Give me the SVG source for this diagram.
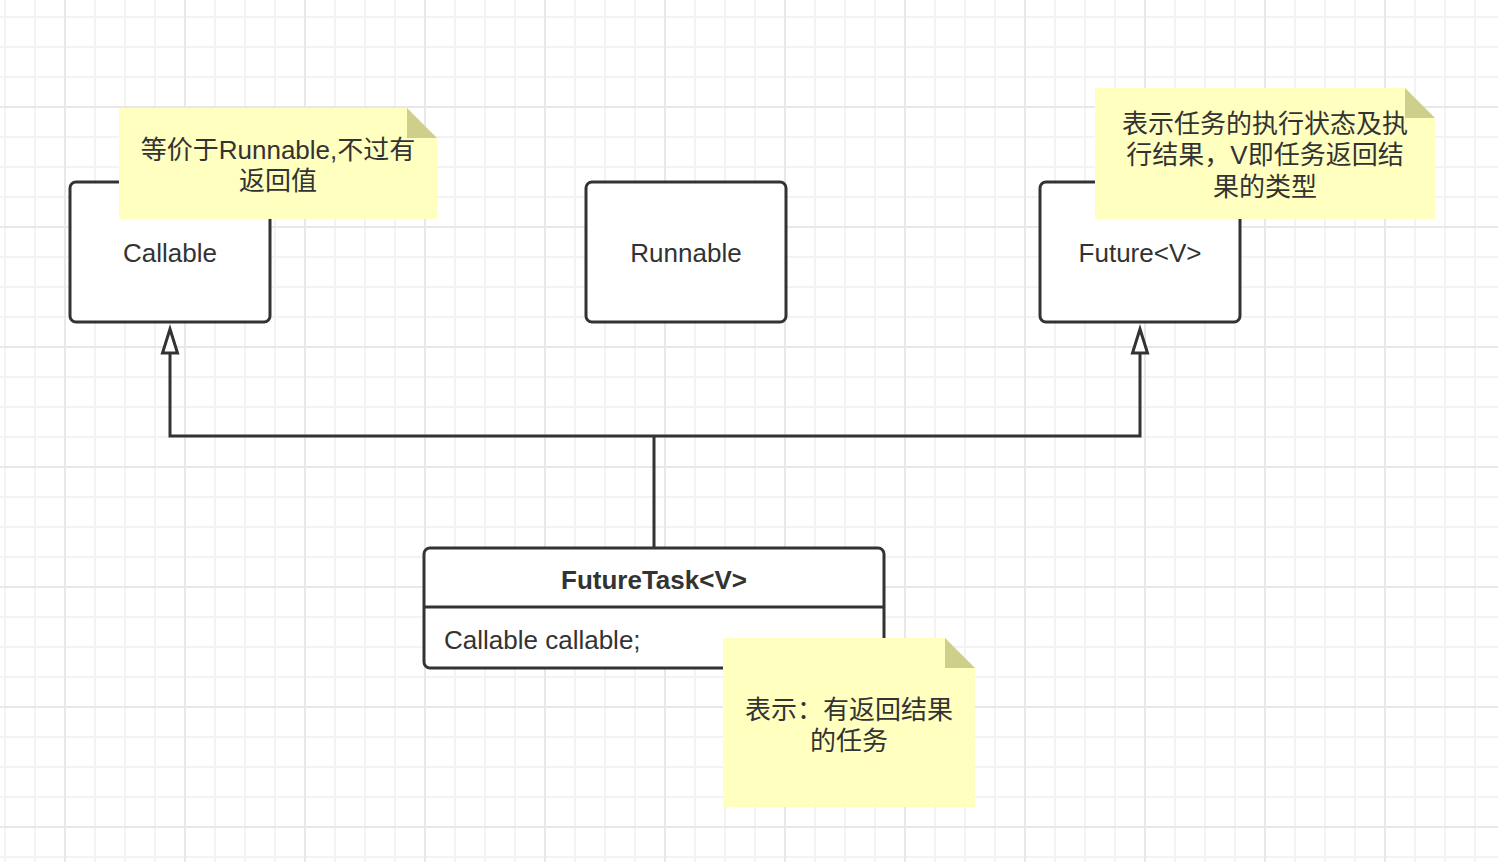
<svg xmlns="http://www.w3.org/2000/svg" width="1498" height="862" viewBox="0 0 1498 862">
<defs>
<pattern id="grid" patternUnits="userSpaceOnUse" x="64" y="106" width="120" height="120">
<rect x="30" y="0" width="2" height="120" fill="#f3f3f3"/>
<rect x="60" y="0" width="2" height="120" fill="#f3f3f3"/>
<rect x="90" y="0" width="2" height="120" fill="#f3f3f3"/>
<rect x="0" y="30" width="120" height="2" fill="#f3f3f3"/>
<rect x="0" y="60" width="120" height="2" fill="#f3f3f3"/>
<rect x="0" y="90" width="120" height="2" fill="#f3f3f3"/>
<rect x="0" y="0" width="2" height="120" fill="#e8e8e8"/>
<rect x="0" y="0" width="120" height="2" fill="#e8e8e8"/>
</pattern>
</defs>
<style>
.box{fill:#ffffff;stroke:#333333;stroke-width:3}
.lbl{font-family:"Liberation Sans","Noto Sans CJK SC",sans-serif;font-size:26px;fill:#333333;text-anchor:middle}
.bold{font-weight:bold}
.note{fill:#ffffc0}
.fold{fill:#cfcf8c}
.cn{font-family:"Liberation Sans","Noto Sans CJK SC",sans-serif;font-size:26px;fill:#333333;text-anchor:middle}
.edge{fill:none;stroke:#333333;stroke-width:3}
.head{fill:#ffffff;stroke:#333333;stroke-width:3;stroke-linejoin:miter}
</style>
<rect width="1498" height="862" fill="#ffffff"/>
<rect width="1498" height="862" fill="url(#grid)"/>

<g id="connectors">
<path class="edge" d="M654,548 V436"/>
<path class="edge" d="M654,436 H170 V353"/>
<path class="edge" d="M654,436 H1140 V353"/>
<path class="head" d="M170,329 L177.5,353 L162.5,353 Z"/>
<path class="head" d="M1140,329 L1147.5,353 L1132.5,353 Z"/>
</g>

<g id="callable">
<rect class="box" x="70" y="182" width="200" height="140" rx="6"/>
<text class="lbl" x="170" y="262">Callable</text>
</g>

<g id="runnable">
<rect class="box" x="586" y="182" width="200" height="140" rx="6"/>
<text class="lbl" x="686" y="262">Runnable</text>
</g>

<g id="future">
<rect class="box" x="1040" y="182" width="200" height="140" rx="6"/>
<text class="lbl" x="1140" y="262">Future&lt;V&gt;</text>
</g>

<g id="futuretask">
<rect class="box" x="424" y="548" width="460" height="120" rx="6"/>
<line x1="424" y1="607" x2="884" y2="607" stroke="#333333" stroke-width="3"/>
<text class="lbl bold" x="654" y="589">FutureTask&lt;V&gt;</text>
<text class="lbl" x="444" y="649" style="text-anchor:start">Callable callable;</text>
</g>

<g id="note-callable">
<path class="note" d="M119,108 H407 L437,138 V219 H119 Z"/>
<path class="fold" d="M407,108 L437,138 H407 Z"/>
<text class="cn" x="278" y="159">等价于Runnable,不过有</text>
<text class="cn" x="278" y="190">返回值</text>
</g>

<g id="note-future">
<path class="note" d="M1095,88 H1405 L1435,118 V219 H1095 Z"/>
<path class="fold" d="M1405,88 L1435,118 H1405 Z"/>
<text class="cn" x="1265" y="133">表示任务的执行状态及执</text>
<text class="cn" x="1265" y="164">行结果，V即任务返回结</text>
<text class="cn" x="1265" y="196">果的类型</text>
</g>

<g id="note-futuretask">
<path class="note" d="M723,638 H945 L975,668 V807 H723 Z"/>
<path class="fold" d="M945,638 L975,668 H945 Z"/>
<text class="cn" x="849" y="719">表示：有返回结果</text>
<text class="cn" x="849" y="750">的任务</text>
</g>
</svg>
